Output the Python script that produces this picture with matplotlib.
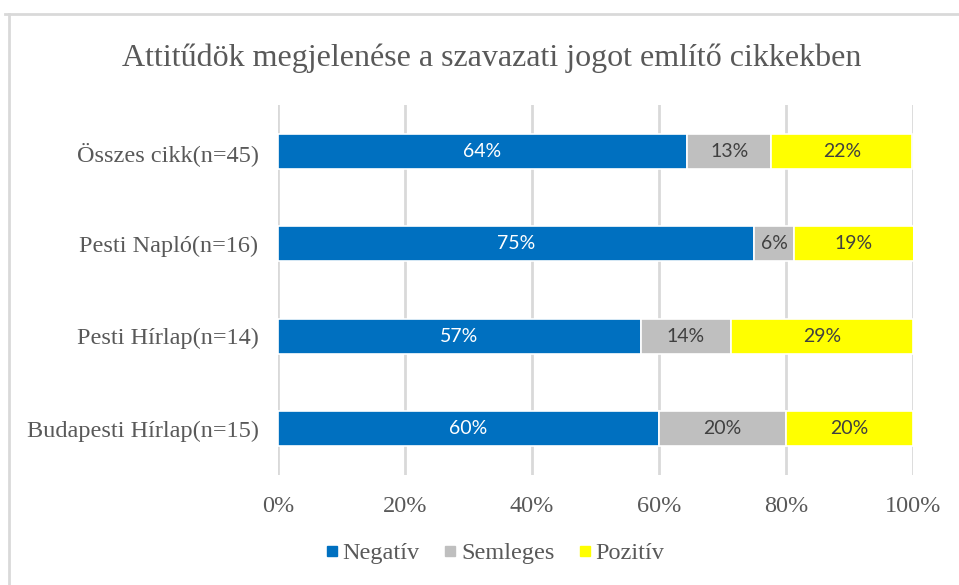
import numpy as np
import matplotlib
matplotlib.use('Agg')
import matplotlib.pyplot as plt
from matplotlib.lines import Line2D

categories = ['Összes cikk(n=45)', 'Pesti Napló(n=16)', 'Pesti Hírlap(n=14)', 'Budapesti Hírlap(n=15)']
series_names = ['Negatív', 'Semleges', 'Pozitív']
negativ = [64.4, 75.0, 57.1, 60.0]
semleges = [13.3, 6.3, 14.3, 20.0]
pozitiv = [22.2, 18.8, 28.6, 20.0]
xticks = [0, 20, 40, 60, 80, 100]

colors = ['#0070C0', '#BFBFBF', '#FFFF00']
label_colors = ['white', '#404040', '#404040']
text_gray = '#595959'
serif = 'Liberation Serif'

fig = plt.figure(figsize=(9.59, 5.85), dpi=100)
ax = fig.add_axes([278 / 959, 110 / 585, 635 / 959, 370 / 585])

ind = np.arange(len(categories))
left = np.zeros(len(categories))
for name, vals, col, lcol in zip(series_names, [negativ, semleges, pozitiv], colors, label_colors):
    vals = np.array(vals)
    rects = ax.barh(ind, vals, 0.376, left=left, color=col, edgecolor='white',
                    linewidth=1.2, zorder=3, label=name)
    for r, v in zip(rects, vals):
        ax.text(r.get_x() + r.get_width() / 2, r.get_y() + r.get_height() / 2,
                '%d%%' % round(v), ha='center', va='center', color=lcol,
                fontsize=14, family='Lato', zorder=4)
    left += vals

ax.set_xlim(0, 100)
ax.set_ylim(len(categories) - 0.5, -0.5)
ax.set_xticks(xticks)
ax.set_xticklabels(['%d%%' % t for t in xticks])
ax.set_yticks(ind)
ax.set_yticklabels(categories)
for lab in ax.get_xticklabels() + ax.get_yticklabels():
    lab.set_family(serif)
    lab.set_fontsize(17.5)
    lab.set_color(text_gray)
ax.tick_params(length=0)
ax.tick_params(axis='x', pad=15)
ax.tick_params(axis='y', pad=14)
ax.grid(axis='x', color='#D9D9D9', linewidth=2, zorder=0)
for s in ax.spines.values():
    s.set_visible(False)

fig.text(492 / 959, 1 - 58 / 585, 'Attitűdök megjelenése a szavazati jogot említő cikkekben',
         ha='center', va='center', fontsize=23, family=serif, color=text_gray)

handles = [Line2D([], [], marker='s', linestyle='none', markersize=7, color=c) for c in colors]
fig.legend(handles, series_names, loc='center', bbox_to_anchor=(495 / 959, 1 - 553 / 585),
           ncol=3, frameon=False, handlelength=0.5, handletextpad=0.2, columnspacing=1.0,
           prop={'family': serif, 'size': 17.5}, labelcolor=text_gray)

# chart frame
fig.add_artist(Line2D([5 / 959, 1], [1 - 14 / 585] * 2, color='#D9D9D9', linewidth=2))
fig.add_artist(Line2D([9 / 959] * 2, [0, 1 - 14 / 585], color='#D9D9D9', linewidth=2))

plt.savefig('out.png', dpi=100)
